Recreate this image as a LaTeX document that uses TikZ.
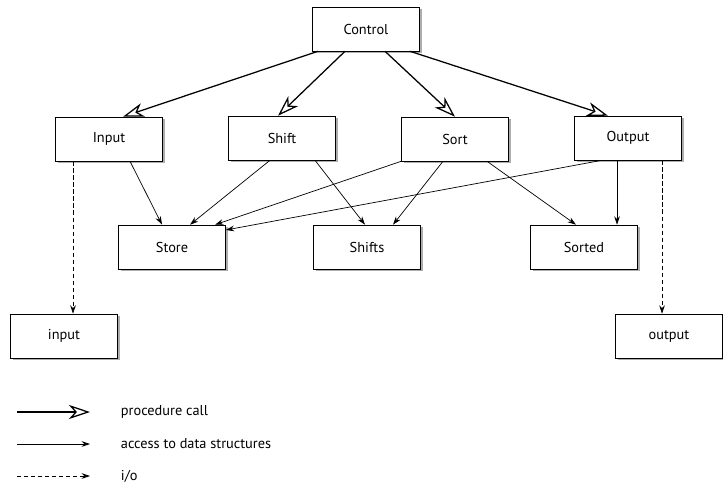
\documentclass[tikz,border=0pt]{standalone}
\usepackage{fontspec}
\setmainfont{PT Sans}
\usepackage{tikz}
\usetikzlibrary{arrows.meta,shadows}

\begin{document}
\begin{tikzpicture}[
    modbox/.style={draw, thin, fill=white, minimum width=2.675cm, minimum height=1.1cm,
        font=\fontsize{10.2}{12}\selectfont,
        drop shadow={shadow xshift=1.5pt, shadow yshift=-1.5pt, fill=black!40, opacity=0.8}},
    call/.style={line width=0.9pt, -{Stealth[open, length=15pt, width=10pt, inset=4.5pt]}},
    access/.style={line width=0.5pt, -{Stealth[length=6pt, width=4pt]}},
    io/.style={line width=0.5pt, dash pattern=on 3pt off 2pt, -{Stealth[length=6pt, width=4pt]}},
    legtext/.style={anchor=west, font=\fontsize{10.2}{12}\selectfont}
]
    \useasboundingbox (0,0) rectangle (18.075,12.4);

    % modules
    \node[modbox] (control) at (9.15, 11.675) {Control};
    \node[modbox] (inmod) at (2.725, 8.925) {Input};
    \node[modbox] (shiftmod) at (7.05, 8.95) {Shift};
    \node[modbox] (sortmod) at (11.375, 8.925) {Sort};
    \node[modbox] (outmod) at (15.7, 8.95) {Output};

    % data structures
    \node[modbox] (store) at (4.3, 6.225) {Store};
    \node[modbox] (shifts) at (9.175, 6.225) {Shifts};
    \node[modbox] (sorted) at (14.6, 6.225) {Sorted};

    % files
    \node[modbox] (infile) at (1.6, 4.0) {input};
    \node[modbox] (outfile) at (16.725, 4.0) {output};

    % procedure calls
    \draw[call] ([xshift=-1.2cm]control.south) -- ([xshift=0.35cm]inmod.north);
    \draw[call] ([xshift=-0.525cm]control.south) -- ([xshift=-0.1cm]shiftmod.north);
    \draw[call] ([xshift=0.475cm]control.south) -- (sortmod.north);
    \draw[call] ([xshift=1.1cm]control.south) -- ([xshift=-0.5cm]outmod.north);

    % access to data
    \draw[access] ([xshift=0.525cm]inmod.south) -- ([xshift=-0.25cm]store.north);
    \draw[access] ([xshift=-0.3cm]shiftmod.south) -- ([xshift=0.45cm]store.north);
    \draw[access] (sortmod.south west) -- ([xshift=1.075cm]store.north);
    \draw[access] ([xshift=-0.65cm]outmod.south) -- ([yshift=0.425cm]store.east);
    \draw[access] ([xshift=0.825cm]shiftmod.south) -- ([xshift=-0.05cm]shifts.north);
    \draw[access] ([xshift=-0.3cm]sortmod.south) -- ([xshift=0.65cm]shifts.north);
    \draw[access] ([xshift=0.8cm]sortmod.south) -- ([xshift=-0.2cm]sorted.north);
    \draw[access] ([xshift=-0.275cm]outmod.south) -- ([xshift=0.825cm]sorted.north);

    % i/o
    \draw[io] ([xshift=-0.9cm]inmod.south) -- ([xshift=0.225cm]infile.north);
    \draw[io] ([xshift=0.85cm]outmod.south) -- ([xshift=-0.175cm]outfile.north);

    % legend
    \coordinate (callA) at (0.425, 2.1);
    \coordinate (callB) at (2.25, 2.1);
    \coordinate (accA) at (0.425, 1.3);
    \coordinate (accB) at (2.25, 1.3);
    \coordinate (ioA) at (0.425, 0.5);
    \coordinate (ioB) at (2.25, 0.5);
    \draw[call] (callA) -- (callB);
    \draw[access] (accA) -- (accB);
    \draw[io] (ioA) -- (ioB);
    \node[legtext] (calltext) at (2.9, 2.1) {procedure call};
    \node[legtext] (acctext) at (2.9, 1.3) {access to data structures};
    \node[legtext] (iotext) at (2.9, 0.5) {i/o};
\end{tikzpicture}
\end{document}
